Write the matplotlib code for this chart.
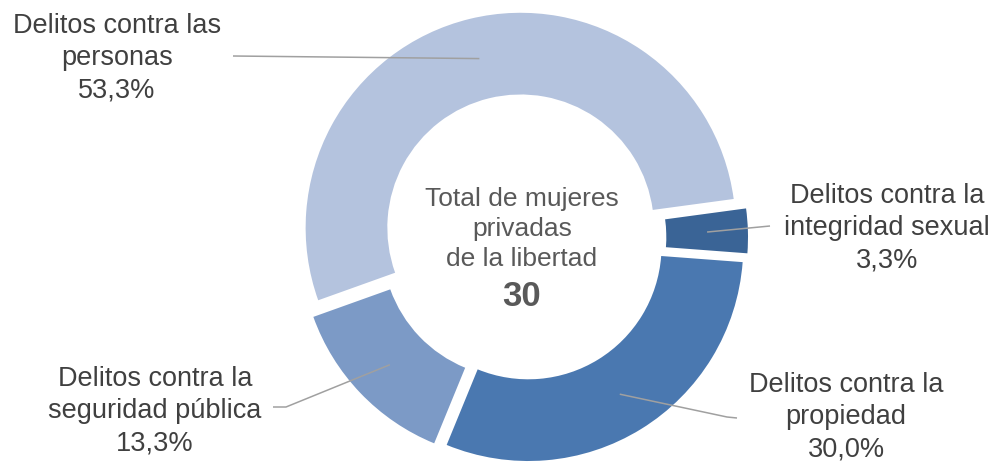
import numpy as np
import matplotlib
matplotlib.use("Agg")
import matplotlib.pyplot as plt

plt.rcParams['font.family'] = ['Liberation Sans', 'DejaVu Sans']

# número de mujeres privadas de la libertad por tipo de delito
categorias = ["Delitos contra las\npersonas",
              "Delitos contra la\nintegridad sexual",
              "Delitos contra la\npropiedad",
              "Delitos contra la\nseguridad pública"]
mujeres = [16, 1, 9, 4]
colores = ["#B4C3DE", "#3A6496", "#4A78B0", "#7C9AC6"]

total = sum(mujeres)

W, H = 994, 464
fig = plt.figure(figsize=(W / 100, H / 100), dpi=100)
ax = fig.add_axes([0, 0, 1, 1])

R = 215
ancho = 0.38
# el desplazamiento de explode va en unidades de datos (px)
wedges, _ = ax.pie(mujeres, colors=colores, radius=R, center=(523, H - 238.5),
                   startangle=199.7, counterclock=False,
                   explode=[10] * len(mujeres),
                   wedgeprops=dict(width=R * ancho, linewidth=0))
ax.set_xlim(0, W)
ax.set_ylim(0, H)
ax.set_aspect('equal')
ax.axis('off')

# posición de las etiquetas y quiebres de las líneas guía (px)
etiquetas_xy = [(117, 58), (887, 228), (846, 417), (155, 411)]
guias = [[(233, 57)],
         [(770, 227)],
         [(727, 418), (737, 419)],
         [(286, 408), (273, 408)]]

rmed = R * (1 - ancho / 2)
for w, cat, n, (tx, ty), quiebre in zip(wedges, categorias, mujeres, etiquetas_xy, guias):
    mid = np.deg2rad((w.theta1 + w.theta2) / 2)
    x0 = w.center[0] + rmed * np.cos(mid)
    y0 = w.center[1] + rmed * np.sin(mid)
    xs = [x0] + [p[0] for p in quiebre]
    ys = [y0] + [H - p[1] for p in quiebre]
    ax.plot(xs, ys, color="#A0A0A0", lw=1.1, solid_capstyle='butt')
    pct = f"{100 * n / total:.1f}%".replace(".", ",")
    ax.text(tx, H - ty, f"{cat}\n{pct}", ha='center', va='center',
            fontsize=19.5, color="#404040", linespacing=1.32)

ax.text(522, H - 229, "Total de mujeres\nprivadas\nde la libertad",
        ha='center', va='center', fontsize=19, color="#595959", linespacing=1.3)
ax.text(522, H - 296, f"{total}", ha='center', va='center',
        fontsize=25, fontweight='bold', color="#595959")

fig.savefig("out.png", dpi=100)
